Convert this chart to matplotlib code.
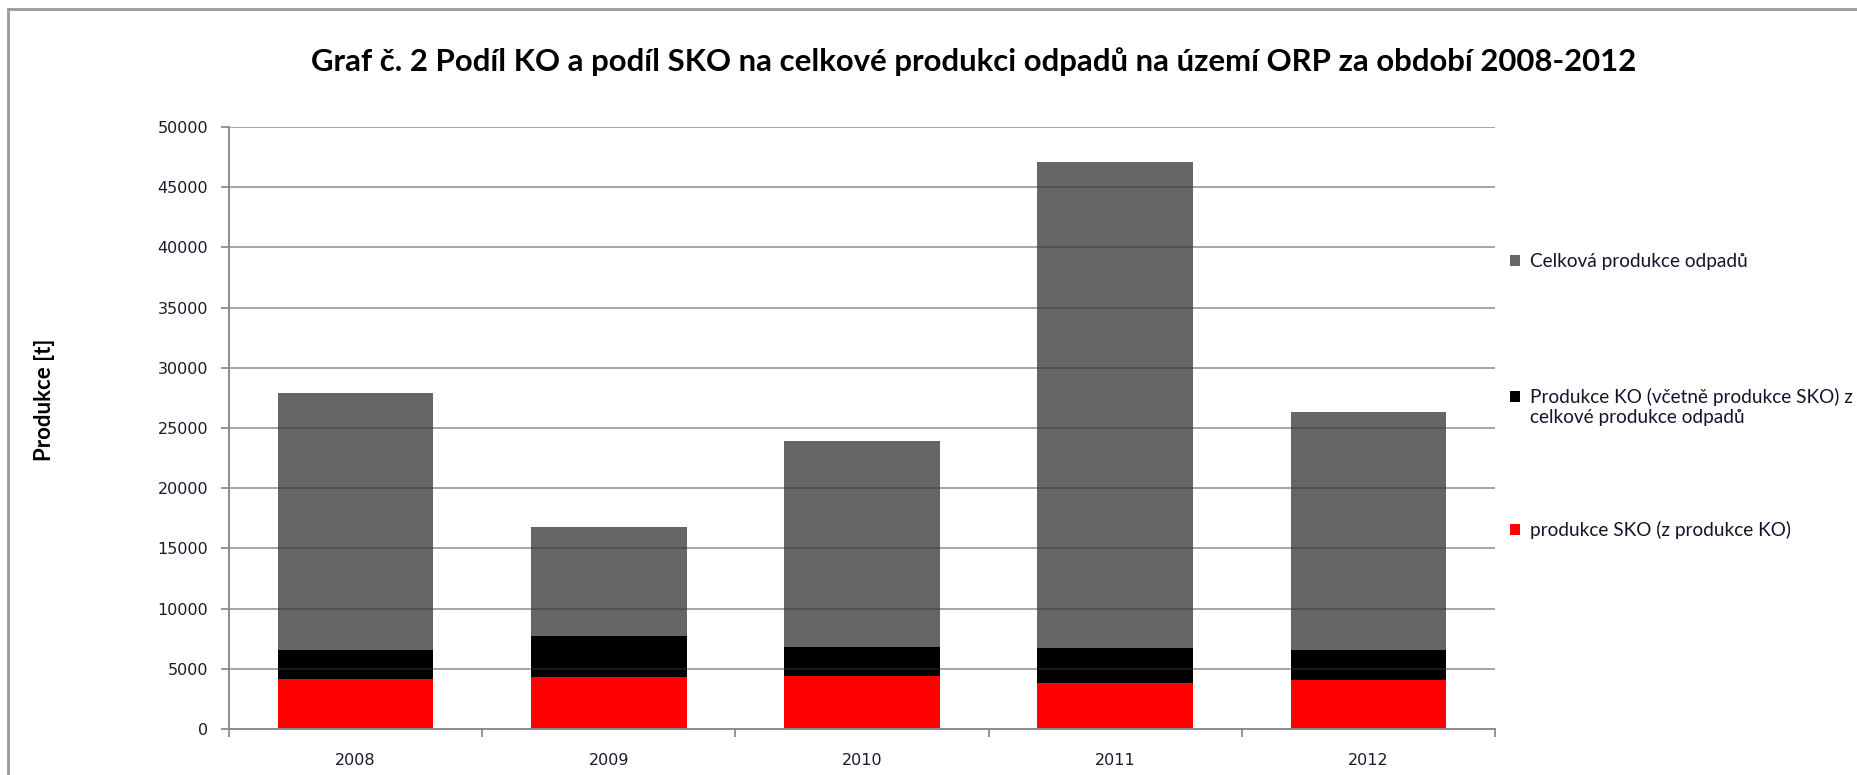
"""
Podíl KO a SKO na celkové produkci odpadů v ORP, 2008-2012.
"""

import matplotlib

matplotlib.use("Agg")
import matplotlib.pyplot as plt
from matplotlib.lines import Line2D
from matplotlib.patches import Patch
import numpy as np

years = ["2008", "2009", "2010", "2011", "2012"]
total_waste = [27900, 16800, 23900, 47100, 26300]
ko_waste = [6580, 7720, 6830, 6690, 6580]
sko_waste = [4190, 4310, 4440, 3830, 4080]

series_labels = [
    "Celková produkce odpadů",
    "Produkce KO (včetně produkce SKO) z\ncelkové produkce odpadů",
    "produkce SKO (z produkce KO)",
]
series_colors = ["#666666", "#000000", "#ff0000"]

y_ticks = np.arange(0, 50001, 5000)

W, H = 1858, 775
fig = plt.figure(figsize=(W / 100, H / 100), dpi=100)
ax = fig.add_axes([229 / W, 1 - 729 / H, (1495 - 229) / W, (729 - 127) / H])

x = np.arange(len(years))
bar_w = 0.615
# overlapping bars, all from zero: total behind, KO in front, SKO on top
for values, color in zip([total_waste, ko_waste, sko_waste], series_colors):
    ax.bar(x, values, width=bar_w, color=color, zorder=2, linewidth=0)

ax.set_xlim(-0.5, len(years) - 0.5)
ax.set_ylim(0, 50000)
ax.set_yticks(y_ticks)
ax.set_yticklabels([str(v) for v in y_ticks])

# category labels centred, tick marks on category boundaries
ax.set_xticks(x)
ax.set_xticklabels(years)
ax.set_xticks(np.arange(-0.5, len(years)), minor=True)
ax.tick_params(axis="x", which="major", length=0, pad=17)
ax.tick_params(axis="x", which="minor", length=6, width=1.3, color="#8c8c8c", direction="out")
ax.tick_params(axis="y", length=6, width=1.3, color="#8c8c8c", direction="out", pad=9)
for lab in ax.get_xticklabels() + ax.get_yticklabels():
    lab.set_fontfamily("DejaVu Sans")
    lab.set_fontsize(11.5)
    lab.set_color("#1a1a2a")

ax.grid(axis="y", color="#383838", alpha=0.45, linewidth=1.4, zorder=3)
ax.set_axisbelow(False)
for side in ("top", "right"):
    ax.spines[side].set_visible(False)
for side in ("left", "bottom"):
    ax.spines[side].set_color("#8c8c8c")
    ax.spines[side].set_linewidth(1.4)
    ax.spines[side].set_zorder(4)

fig.text(974 / W, 1 - 62 / H,
         "Graf č. 2 Podíl KO a podíl SKO na celkové produkci odpadů na území ORP za období 2008-2012",
         ha="center", va="center", fontsize=22.4, fontweight="bold", family="Lato")
fig.text(45 / W, 1 - 400 / H, "Produkce [t]", rotation=90, ha="center", va="center",
         fontsize=16, fontweight="bold", family="Lato")

# legend built line by line so the marker sits on the first line of each entry
legend_lines = []
legend_rows = [262, 397, 530]
for label, color, row in zip(series_labels, series_colors, legend_rows):
    for k, line in enumerate(label.split("\n")):
        legend_lines.append((line, color if k == 0 else "none", row + 20 * k))

for text, color, row in legend_lines:
    leg = fig.legend(handles=[Patch(facecolor=color, edgecolor="none")], labels=[text],
                     loc="center left", bbox_to_anchor=(1510 / W, 1 - row / H),
                     frameon=False, handlelength=0.5, handleheight=0.5,
                     handletextpad=0.55, borderpad=0, borderaxespad=0,
                     prop={"family": "Lato", "size": 13.7})
    for t in leg.get_texts():
        t.set_color("#14142a")

# chart area frame
fig.add_artist(Line2D([8 / W, 1], [1 - 9 / H, 1 - 9 / H], transform=fig.transFigure,
                      color="#9a9a9a", linewidth=2))
fig.add_artist(Line2D([8 / W, 8 / W], [0, 1 - 9 / H], transform=fig.transFigure,
                      color="#9a9a9a", linewidth=2))

fig.savefig("out.png", dpi=100)
plt.close(fig)
